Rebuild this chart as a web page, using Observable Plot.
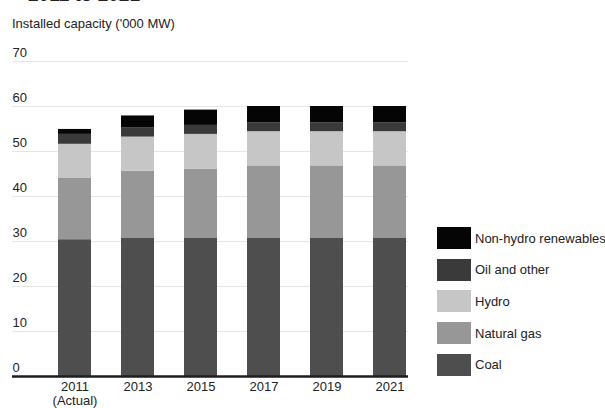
<!DOCTYPE html>
<html>
<head>
<meta charset="utf-8">
<script src="https://cdn.jsdelivr.net/npm/d3@7"></script>
<script src="https://cdn.jsdelivr.net/npm/@observablehq/plot@0.6"></script>
<style>
  html, body { margin: 0; padding: 0; background: #fff; }
  body { width: 605px; height: 408px; position: relative; overflow: hidden;
         font-family: "Liberation Sans", Arial, Helvetica, sans-serif; color: #222; }
  #title { position: absolute; left: 28px; top: -15px; font-size: 19px; line-height: 20px; font-weight: bold; white-space: nowrap; color: #222; }
  #subtitle { position: absolute; left: 12px; top: 16px; font-size: 13px; white-space: nowrap; }
  #chart { position: absolute; left: 0; top: 0; }
  #legend { position: absolute; left: 437px; top: 227px; }
  .item { display: flex; align-items: center; height: 22px; margin-bottom: 9.7px; white-space: nowrap; }
  .swatch { width: 34px; height: 22px; margin-right: 4px; flex: none; }
  .item span { font-size: 13px; }
</style>
</head>
<body>
<div id="title">2011 to 2021</div>
<div id="subtitle">Installed capacity ('000 MW)</div>
<div id="chart"></div>
<div id="legend"></div>
<script>
// Installed generating capacity by source, thousand MW
const years = ["2011", "2013", "2015", "2017", "2019", "2021"];
const coal = [30.4, 30.8, 30.8, 30.8, 30.8, 30.8];
const naturalGas = [13.6, 14.8, 15.3, 16.0, 16.0, 16.0];
const hydro = [7.6, 7.6, 7.7, 7.6, 7.6, 7.6];
const oilAndOther = [2.2, 2.1, 2.0, 2.0, 2.0, 2.0];
const nonHydroRenewables = [1.1, 2.6, 3.4, 3.6, 3.6, 3.6];

const sources = ["Coal", "Natural gas", "Hydro", "Oil and other", "Non-hydro renewables"];
const series = [coal, naturalGas, hydro, oilAndOther, nonHydroRenewables];
const colors = ["#4e4e4e", "#979797", "#c6c6c6", "#3a3a3a", "#050505"];
const yTicks = [0, 10, 20, 30, 40, 50, 60, 70];

const rows = [];
sources.forEach((s, i) => {
  years.forEach((y, j) => rows.push({year: y, source: s, value: series[i][j]}));
});

const chart = Plot.plot({
  width: 605,
  height: 408,
  marginTop: 61,
  marginBottom: 32,
  marginLeft: 12,
  marginRight: 197,
  style: {fontFamily: "Liberation Sans, Arial, sans-serif", fontSize: "13px", color: "#222"},
  x: {domain: years, paddingInner: 0.48, paddingOuter: 0.373, align: 0.96, label: null},
  y: {domain: [0, 70], ticks: yTicks, label: null},
  color: {domain: sources, range: colors},
  marks: [
    Plot.gridY(yTicks, {stroke: "#e6e6e6", strokeOpacity: 1}),
    Plot.axisY(yTicks, {anchor: "left", tickSize: 0, tickPadding: 0, textAnchor: "start", dy: -9, label: null, fontSize: 13}),
    Plot.barY(rows, Plot.stackY({x: "year", y: "value", fill: "source", order: sources})),
    Plot.ruleY([0], {stroke: "#1e1e1e", strokeWidth: 2.5}),
    Plot.axisX({tickSize: 0, tickPadding: 5, label: null, fontSize: 13, lineHeight: 1.05,
      tickFormat: d => d === "2011" ? "2011\n(Actual)" : d})
  ]
});
document.getElementById("chart").appendChild(chart);

// Legend, top entry first
const legend = document.getElementById("legend");
sources.slice().reverse().forEach(s => {
  const item = document.createElement("div");
  item.className = "item";
  const sw = document.createElement("div");
  sw.className = "swatch";
  sw.style.background = colors[sources.indexOf(s)];
  const label = document.createElement("span");
  label.textContent = s;
  item.appendChild(sw);
  item.appendChild(label);
  legend.appendChild(item);
});
</script>
</body>
</html>
